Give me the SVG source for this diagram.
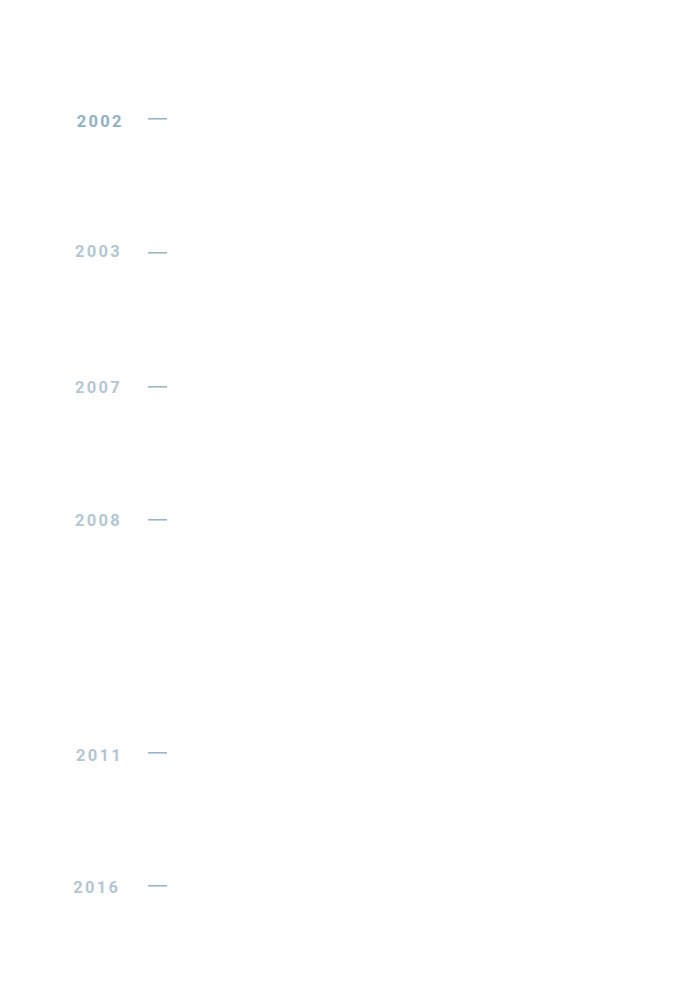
<svg xmlns="http://www.w3.org/2000/svg" width="681" height="989" viewBox="0 0 681 989">
<style>
.yr{font-family:Roboto,"Liberation Sans",sans-serif;font-size:16.5px;font-weight:700;letter-spacing:2.3px;fill:#b3c7d3}
.yr.cur{fill:#8fb1c5}
.tick{stroke:#8fb3c7;stroke-width:1.5}
</style>
<rect width="681" height="989" fill="#ffffff"/>
<g id="y2002"><text class="yr cur" x="76.7" y="126.7">2002</text></g>
<g id="y2003"><text class="yr" x="75" y="257.3">2003</text></g>
<g id="y2007"><text class="yr" x="75" y="392.7">2007</text></g>
<g id="y2008"><text class="yr" x="75" y="525.7">2008</text></g>
<g id="y2011"><text class="yr" x="76" y="761.3">2011</text></g>
<g id="y2016"><text class="yr" x="73.3" y="893">2016</text></g>
<g id="connectors">
<line class="tick" x1="148" y1="118.8" x2="167" y2="118.8"/>
<line class="tick" x1="148" y1="252.8" x2="167" y2="252.8"/>
<line class="tick" x1="148" y1="386.8" x2="167" y2="386.8"/>
<line class="tick" x1="148" y1="519.8" x2="167" y2="519.8"/>
<line class="tick" x1="148" y1="752.8" x2="167" y2="752.8"/>
<line class="tick" x1="148" y1="885.8" x2="167" y2="885.8"/>
</g>
</svg>
